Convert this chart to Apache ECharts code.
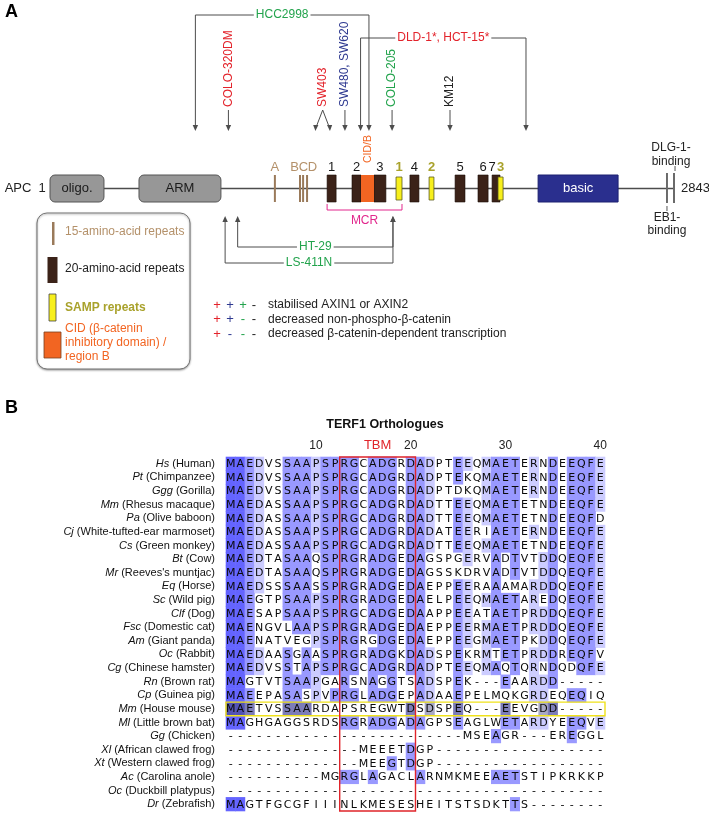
<!DOCTYPE html>
<html><head><meta charset="utf-8">
<script src="https://cdn.jsdelivr.net/npm/echarts@6/dist/echarts.min.js"></script>
<style>html,body{margin:0;padding:0;background:#fff}#c{width:709px;height:816px}</style>
</head><body><div id="c"></div>
<script>
// ---------------- Panel A data (positions in amino acids along APC) ----------------
const proteinName = 'APC';
const proteinLength = 2843;
const domainNames = ['oligo.', 'ARM', 'basic'];
const domainStart = [1, 405, 2217];
const domainEnd = [246, 777, 2580];
const rep15Names = ['A', 'B', 'C', 'D'];
const rep15Pos = [1022, 1136, 1150, 1168];
const rep20Names = ['1', '2', '3', '4', '5', '6', '7'];
const rep20Start = [1259, 1372, 1472, 1635, 1840, 1944, 2008];
const rep20End = [1300, 1413, 1526, 1676, 1885, 1990, 2044];
const sampNames = ['1', '2', '3'];
const sampStart = [1572, 1722, 2035];
const sampEnd = [1599, 1744, 2058];
const cidName = 'CID/B';
const cidRange = [1413, 1472];
const mcrName = 'MCR';
const mcrRange = [1259, 1599];
const bindingNames = [['EB1-', 'binding'], ['DLG-1-', 'binding']];
const bindingPos = [2802, 2834];
const downNames = ['HCC2998', 'COLO-320DM', 'SW403', 'SW480, SW620', 'DLD-1*, HCT-15*', 'COLO-205', 'KM12'];
const downSites = [[661, 1449], [811], [1206, 1272], [1340], [1411, 2162], [1554], [1817]];
const upNames = ['HT-29', 'LS-411N'];
const upSites = [[853, 1558], [796, 1558]];
const keyRows = ['stabilised AXIN1 or AXIN2', 'decreased non-phospho-\u03b2-catenin', 'decreased \u03b2-catenin-dependent transcription'];
const keySigns = [['+', '+', '+', '-'], ['+', '+', '-', '-'], ['+', '-', '-', '-']];

// ---------------- Panel B data ----------------
const alignTitle = 'TERF1 Orthologues';
const columns = ['1','2','3','4','5','6','7','8','9','10','11','12','13','14','15','16','17','18','19','20',
  '21','22','23','24','25','26','27','28','29','30','31','32','33','34','35','36','37','38','39','40'];
const rulerLabels = ['10', '20', '30', '40'];
const speciesAbbr = ['Hs','Pt','Ggg','Mm','Pa','Cj','Cs','Bt','Mr','Eq','Sc','Clf','Fsc','Am','Oc','Cg','Rn','Cp','Mm','Ml','Gg','Xl','Xt','Ac','Oc','Dr'];
const speciesName = ['Human','Chimpanzee','Gorilla','Rhesus macaque','Olive baboon','White-tufted-ear marmoset','Green monkey','Cow',"Reeves's muntjac",'Horse','Wild pig','Dog','Domestic cat','Giant panda','Rabbit','Chinese hamster','Brown rat','Guinea pig','House mouse','Little brown bat','Chicken','African clawed frog','Western clawed frog','Carolina anole','Duckbill platypus','Zebrafish'];
const sequences = [
  'MAEDVSSAAPSPRGCADGRDADPTEEQMAETERNDEEQFE',
  'MAEDVSSAAPSPRGCADGRDADPTEKQMAETERNDEEQFE',
  'MAEDVSSAAPSPRGCADGRDADPTDKQMAETERNDEEQFE',
  'MAEDASSAAPSPRGCADGRDADTTEEQMAETETNDEEQFE',
  'MAEDASSAAPSPRGCADGRDADTTEEQMAETETNDEEQFD',
  'MAEDASSAAPSPRGCADGRDADATEERIAETERNDEEQFE',
  'MAEDASSAAPSPRGCADGRDADTTEEQMAETETNDEEQFE',
  'MAEDTASAAQSPRGRADGEDAGSPGERVADTVTDDQEQFE',
  'MAEDTASAAQSPRGRADGEDAGSSKDRVADTVTDDQEQFE',
  'MAEDSSSAASSPRGRADGEDAEPPEERAAAMARDDQEQFE',
  'MAEGTPSAAPSPRGRADGEDAELPEEQMAETAREDQEQFE',
  'MAESAPSAAPSPRGCADGEDAAPPEEATAETPRDDQEQFE',
  'MAENGVLAAPSPRGRADGEDAEPPEERMAETPRDDQEQFE',
  'MAENATVEGPSPRGRGDGEDAEPPEEGMAETPKDDQEQFE',
  'MAEDAASGAASPRGRADGKDADSPEKRMTETPRDDREQFV',
  'MAEDVSSTAPSPRGCADGRDADPTEEQMAQTQRNDQDQFE',
  'MAGTVTSAAPGARSNAGGTSADSPEK---EAARDD-----',
  'MAEEPASASPVPRGLADGEPADAAEPELMQKGRDEQEQIQ',
  'MAETVSSAARDAPSREGWTDSDSPEQ---EEVGDD-----',
  'MAGHGAGGSRDSRGRADGADAGPSEAGLWETARDYEEQVE',
  '-------------------------MSEAGR---EREGGL',
  '--------------MEEETDGP------------------',
  '--------------MEEGTDGP------------------',
  '----------MGRGLAGACLARNMKMEEAETSTIPKRKKP',
  '----------------------------------------',
  'MAGTFGCGFIIINLKMESESHEITSTSDKTTS--------'
];
const motifName = 'TBM';
const motifCols = [13, 20];
const highlightedSpecies = 'House mouse';

// ---------------- styles ----------------
const FONT = '"Liberation Sans", Arial, Helvetica, sans-serif';
const COL = {red:'#e3232b', green:'#22a34c', navy:'#2e3990', black:'#222', tan:'#b4916a', olive:'#a9a22c',
  orange:'#f26522', magenta:'#e2278d', brown:'#3b2218', yellow:'#f7ef1c', gray:'#979797', basic:'#2a2f8e', line:'#4d4d4d'};
const downStyle = {
  'HCC2998': {color: COL.green, kind: 'bracket', y: 15},
  'COLO-320DM': {color: COL.red, kind: 'vertical'},
  'SW403': {color: COL.red, kind: 'split'},
  'SW480, SW620': {color: COL.navy, kind: 'vertical'},
  'DLD-1*, HCT-15*': {color: COL.red, kind: 'bracket', y: 38},
  'COLO-205': {color: COL.green, kind: 'vertical'},
  'KM12': {color: COL.black, kind: 'vertical'}
};
const upStyle = {'HT-29': {color: COL.green, y: 247}, 'LS-411N': {color: COL.green, y: 263}};
const keyColors = [COL.red, COL.navy, COL.green, COL.black];
const Y = {tipDown: 131, textBottom: 107, arrowTop: 110, repLabel: 167, top: 175, bot: 202, mid: 188.5,
  mcr: 210, mcrText: 221, tipUp: 216};
const PAL = ['', '#ccccff', '#9999ff', '#6464ff'];
const PAL_SEL = ['', '#a9a9c4', '#7d7db8', '#5252b4'];

// percentage-identity shading (Jalview style) derived from the sequences
const levels = (function () {
  const n = sequences.length, L = columns.length;
  const lv = sequences.map(() => new Array(L).fill(0));
  for (let c = 0; c < L; c++) {
    const cnt = {};
    sequences.forEach(s => { const ch = s[c]; if (ch !== '-') cnt[ch] = (cnt[ch] || 0) + 1; });
    let max = 0; for (const k in cnt) max = Math.max(max, cnt[k]);
    const pct = max / n * 100;
    const level = pct > 80 ? 3 : pct > 60 ? 2 : pct > 40 ? 1 : 0;
    sequences.forEach((s, r) => { if (s[c] !== '-' && cnt[s[c]] === max) lv[r][c] = level; });
  }
  return lv;
})();
const selRow = speciesName.indexOf(highlightedSpecies);
const speciesLabels = speciesAbbr.map((a, i) => a + ' (' + speciesName[i] + ')');

function font(sz, w) { return (w || 'normal') + ' ' + sz + 'px ' + FONT; }
function txt(x, y, text, color, sz, opts) {
  return {type: 'text', x: x, y: y, style: Object.assign({text: text, fill: color, font: font(sz || 12), align: 'center', verticalAlign: 'middle'}, opts || {})};
}
function head(x, y, dir, color) {
  const h = 6, w = 2.7;
  return {type: 'polygon', shape: {points: [[x, y], [x - w, y - dir * h], [x + w, y - dir * h]]}, style: {fill: color}};
}
function line(points, color, w) {
  return {type: 'polyline', shape: {points: points}, style: {stroke: color, lineWidth: w || 1, fill: null}};
}

// ---------------- render functions for panel A ----------------
function X(api, aa) { return api.coord([aa, 0])[0]; }
function YY(api, v) { return api.coord([1, v])[1]; }

function renderBackbone(params, api) {
  const x0 = X(api, 1), x1 = X(api, bindingPos[1]), xe = X(api, proteinLength), y = YY(api, Y.mid);
  return {type: 'group', children: [
    line([[x0, y], [x1, y]], COL.line, 1.3),
    txt(x0 - 32, y, proteinName, '#222', 13),
    txt(x0 - 8, y, '1', '#222', 13),
    txt(xe + 5, y, String(proteinLength), '#222', 13, {align: 'left'})
  ]};
}
function renderDomain(params, api) {
  const i = params.dataIndex;
  const x0 = X(api, domainStart[i]), x1 = X(api, domainEnd[i]);
  const t = YY(api, Y.top), b = YY(api, Y.bot);
  const isBasic = domainNames[i] === 'basic';
  return {type: 'group', children: [
    {type: 'rect', shape: {x: x0, y: t, width: x1 - x0, height: b - t, r: isBasic ? 0 : 5},
      style: {fill: isBasic ? COL.basic : COL.gray, stroke: isBasic ? '#1c2070' : '#555', lineWidth: 1}},
    txt((x0 + x1) / 2, (t + b) / 2, domainNames[i], isBasic ? '#fff' : '#1a1a1a', 13)
  ]};
}
function renderRep15(params, api) {
  const i = params.dataIndex;
  const x = X(api, rep15Pos[i]);
  const t = YY(api, Y.top), b = YY(api, Y.bot);
  let lx = x;
  if (i > 0) { const m = (X(api, rep15Pos[1]) + X(api, rep15Pos[3])) / 2; lx = m + (i - 2) * 9; }
  return {type: 'group', children: [
    {type: 'rect', shape: {x: x - 1, y: t, width: 2, height: b - t}, style: {fill: '#9a7a5a'}},
    txt(lx, YY(api, Y.repLabel), rep15Names[i], COL.tan, 13)
  ]};
}
function renderRep20(params, api) {
  const i = params.dataIndex;
  const x0 = X(api, rep20Start[i]), x1 = X(api, rep20End[i]);
  const t = YY(api, Y.top), b = YY(api, Y.bot);
  const lx = (x0 + x1) / 2 + (rep20Names[i] === '7' ? -4 : 0);
  return {type: 'group', children: [
    {type: 'rect', shape: {x: x0, y: t, width: x1 - x0, height: b - t}, style: {fill: COL.brown, stroke: '#1b0d06', lineWidth: 0.6}},
    txt(lx, YY(api, Y.repLabel), rep20Names[i], '#1a1a1a', 13)
  ]};
}
function renderCid(params, api) {
  const x0 = X(api, cidRange[0]), x1 = X(api, cidRange[1]);
  const t = YY(api, Y.top), b = YY(api, Y.bot);
  return {type: 'group', children: [
    {type: 'rect', shape: {x: x0, y: t, width: x1 - x0, height: b - t}, style: {fill: COL.orange}},
    {type: 'text', x: (x0 + x1) / 2 + 1, y: YY(api, 163), rotation: Math.PI / 2,
      style: {text: cidName, fill: COL.orange, font: font(10.5), align: 'left', verticalAlign: 'middle'}}
  ]};
}
function renderSamp(params, api) {
  const i = params.dataIndex;
  const x0 = X(api, sampStart[i]), x1 = X(api, sampEnd[i]);
  const t = YY(api, Y.top), b = YY(api, Y.bot);
  return {type: 'group', children: [
    {type: 'rect', shape: {x: x0, y: t + 2, width: x1 - x0, height: b - t - 4}, style: {fill: COL.yellow, stroke: '#5a5a20', lineWidth: 0.8}},
    txt((x0 + x1) / 2, YY(api, Y.repLabel), sampNames[i], COL.olive, 13, {font: font(13, 'bold')})
  ]};
}
function renderMcr(params, api) {
  const x0 = X(api, mcrRange[0]), x1 = X(api, mcrRange[1]);
  const y = YY(api, Y.mcr);
  return {type: 'group', children: [
    line([[x0, y - 6], [x0, y], [x1, y], [x1, y - 6]], COL.magenta, 1),
    txt((x0 + x1) / 2, YY(api, Y.mcrText), mcrName, COL.magenta, 12)
  ]};
}
function renderBinding(params, api) {
  const i = params.dataIndex;
  const x = X(api, bindingPos[i]);
  const t = YY(api, Y.top - 2), b = YY(api, Y.bot + 1);
  const ch = [{type: 'rect', shape: {x: x - 1, y: t, width: 2, height: b - t}, style: {fill: '#6a6a6a'}}];
  if (i === 0) {
    ch.push(line([[x, b + 3], [x, b + 8]], '#555', 1));
    ch.push(txt(x, YY(api, 218), bindingNames[i][0], '#222', 12));
    ch.push(txt(x, YY(api, 231), bindingNames[i][1], '#222', 12));
  } else {
    ch.push(line([[x + 1, t - 7], [x + 1, t - 2]], '#555', 1));
    ch.push(txt(x - 3, YY(api, 148), bindingNames[i][0], '#222', 12));
    ch.push(txt(x - 3, YY(api, 162), bindingNames[i][1], '#222', 12));
  }
  return {type: 'group', children: ch};
}
function renderDown(params, api) {
  const i = params.dataIndex, name = downNames[i], st = downStyle[name];
  const xs = downSites[i].map(a => X(api, a));
  const tip = YY(api, Y.tipDown);
  const ch = [];
  if (st.kind === 'bracket') {
    const y = YY(api, st.y);
    ch.push(line([[xs[0], tip - 4], [xs[0], y], [xs[1], y], [xs[1], tip - 4]], COL.line, 1));
    xs.forEach(x => ch.push(head(x, tip, 1, COL.line)));
    ch.push(txt((xs[0] + xs[1]) / 2, y, name, st.color, 12, {backgroundColor: '#fff', padding: [0, 2]}));
  } else if (st.kind === 'split') {
    const xm = (xs[0] + xs[1]) / 2, ya = YY(api, Y.arrowTop);
    ch.push(line([[xs[0], tip - 2], [xm, ya], [xs[1], tip - 2]], COL.line, 1));
    xs.forEach(x => ch.push({type: 'polygon', shape: {points: [[x, tip], [x + (xm - x) * 0.05 - 2.6, tip - 6], [x + (xm - x) * 0.05 + 2.6, tip - 6]]}, style: {fill: COL.line}}));
    ch.push({type: 'text', x: xm, y: YY(api, Y.textBottom), rotation: Math.PI / 2,
      style: {text: name, fill: st.color, font: font(12), align: 'left', verticalAlign: 'middle'}});
  } else {
    const x = xs[0];
    ch.push(line([[x, YY(api, Y.arrowTop)], [x, tip - 4]], COL.line, 1));
    ch.push(head(x, tip, 1, COL.line));
    ch.push({type: 'text', x: x, y: YY(api, Y.textBottom), rotation: Math.PI / 2,
      style: {text: name, fill: st.color, font: font(12), align: 'left', verticalAlign: 'middle'}});
  }
  return {type: 'group', children: ch};
}
function renderUp(params, api) {
  const i = params.dataIndex, name = upNames[i], st = upStyle[name];
  const xs = upSites[i].map(a => X(api, a));
  const tip = YY(api, Y.tipUp), y = YY(api, st.y);
  const ch = [line([[xs[0], tip + 4], [xs[0], y], [xs[1], y], [xs[1], tip + 4]], COL.line, 1)];
  xs.forEach(x => ch.push(head(x, tip, -1, COL.line)));
  ch.push(txt((xs[0] + xs[1]) / 2, y, name, st.color, 12, {backgroundColor: '#fff', padding: [0, 2]}));
  return {type: 'group', children: ch};
}

// ---------------- render functions for panel B ----------------
function renderCell(params, api) {
  const c = api.value(0), r = api.value(1);
  const p = api.coord([c, r]), s = api.size([1, 1]);
  const lv = levels[r][c];
  const pal = r === selRow ? PAL_SEL : PAL;
  const ch = [];
  if (lv > 0) ch.push({type: 'rect', shape: {x: p[0] - s[0] / 2 - 0.3, y: p[1] - s[1] / 2 - 0.3, width: s[0] + 0.6, height: s[1] + 0.6}, style: {fill: pal[lv]}});
  ch.push({type: 'text', x: p[0], y: p[1] + 0.5, style: {text: sequences[r][c], fill: '#0a0a0a', font: '11px "DejaVu Sans", sans-serif', align: 'center', verticalAlign: 'middle'}});
  return {type: 'group', children: ch};
}
function renderMotif(params, api) {
  const a = api.coord([motifCols[0] - 1, 0]), b = api.coord([motifCols[1] - 1, sequences.length - 1]);
  const s = api.size([1, 1]);
  const x0 = a[0] - s[0] / 2, x1 = b[0] + s[0] / 2, y0 = a[1] - s[1] / 2, y1 = b[1] + s[1] / 2;
  return {type: 'group', children: [
    {type: 'rect', shape: {x: x0, y: y0, width: x1 - x0, height: y1 - y0}, style: {fill: null, stroke: '#e0242a', lineWidth: 1.4}},
    txt((x0 + x1) / 2, y0 - 12, motifName, '#e0242a', 13)
  ]};
}
function renderSel(params, api) {
  const a = api.coord([0, selRow]), b = api.coord([columns.length - 1, selRow]);
  const s = api.size([1, 1]);
  return {type: 'rect', shape: {x: a[0] - s[0] / 2, y: a[1] - s[1] / 2, width: b[0] - a[0] + s[0], height: s[1]},
    style: {fill: null, stroke: '#f0e21a', lineWidth: 1.4}};
}

const cellData = [];
sequences.forEach((s, r) => { for (let c = 0; c < columns.length; c++) cellData.push([c, r]); });

// ---------------- static annotations (legends, panel letters, title) ----------------
const graphics = [
  {type: 'text', left: 5, top: 3, style: {text: 'A', font: font(18, 'bold'), fill: '#000'}},
  {type: 'text', left: 5, top: 399, style: {text: 'B', font: font(18, 'bold'), fill: '#000'}},
  {type: 'text', x: 385, y: 425, style: {text: alignTitle, font: font(12.5, 'bold'), fill: '#111', align: 'center', verticalAlign: 'middle'}},
  {type: 'rect', shape: {x: 37, y: 213, width: 153, height: 156, r: 10}, style: {fill: '#fff', stroke: '#777', lineWidth: 1, shadowBlur: 2, shadowOffsetY: 1, shadowColor: 'rgba(0,0,0,0.35)'}, z: 0},
  {type: 'rect', shape: {x: 52, y: 222, width: 2.5, height: 23}, style: {fill: '#9a7a5a'}, z: 1},
  {type: 'text', x: 65, y: 232, style: {text: '15-amino-acid repeats', font: font(12), fill: COL.tan, verticalAlign: 'middle'}, z: 1},
  {type: 'rect', shape: {x: 47.5, y: 257, width: 10, height: 26}, style: {fill: COL.brown}, z: 1},
  {type: 'text', x: 65, y: 269, style: {text: '20-amino-acid repeats', font: font(12), fill: '#222', verticalAlign: 'middle'}, z: 1},
  {type: 'rect', shape: {x: 49, y: 294, width: 7, height: 27}, style: {fill: COL.yellow, stroke: '#444', lineWidth: 0.8}, z: 1},
  {type: 'text', x: 65, y: 308, style: {text: 'SAMP repeats', font: font(12, 'bold'), fill: COL.olive, verticalAlign: 'middle'}, z: 1},
  {type: 'rect', shape: {x: 44, y: 332, width: 17, height: 26}, style: {fill: COL.orange, stroke: '#7a4020', lineWidth: 0.8}, z: 1},
  {type: 'text', x: 65, y: 329, style: {text: 'CID (\u03b2-catenin', font: font(12), fill: COL.orange, verticalAlign: 'middle'}, z: 1},
  {type: 'text', x: 65, y: 343, style: {text: 'inhibitory domain) /', font: font(12), fill: COL.orange, verticalAlign: 'middle'}, z: 1},
  {type: 'text', x: 65, y: 357, style: {text: 'region B', font: font(12), fill: COL.orange, verticalAlign: 'middle'}, z: 1}
];
const signX = [217, 230, 243, 254];
keyRows.forEach((t, r) => {
  const y = 305 + r * 14.5;
  keySigns[r].forEach((s, k) => graphics.push({type: 'text', x: signX[k], y: y, style: {text: s, font: font(13), fill: keyColors[k], align: 'center', verticalAlign: 'middle'}}));
  graphics.push({type: 'text', x: 268, y: y, style: {text: t, font: font(12), fill: '#222', verticalAlign: 'middle'}});
});

const A = {xAxisIndex: 0, yAxisIndex: 0, type: 'custom', silent: true, animation: false};
const chart = echarts.init(document.getElementById('c'), null, {width: 709, height: 816});
chart.setOption({
  animation: false,
  backgroundColor: '#fff',
  grid: [
    {left: 50, top: 0, width: 626, height: 400},
    {left: 226, top: 457, width: 379, height: 354}
  ],
  xAxis: [
    {gridIndex: 0, type: 'value', min: 1, max: proteinLength, show: false},
    {gridIndex: 1, type: 'category', data: columns, position: 'top', offset: 2,
      axisLine: {show: false}, splitLine: {show: false},
      axisTick: {alignWithLabel: true, interval: (i) => (i + 1) % 5 === 0, length: 4, lineStyle: {color: '#333'}},
      axisLabel: {interval: (i, v) => rulerLabels.indexOf(v) >= 0, fontSize: 12, color: '#222', margin: 3, fontFamily: FONT}}
  ],
  yAxis: [
    {gridIndex: 0, type: 'value', min: 0, max: 400, inverse: true, show: false},
    {gridIndex: 1, type: 'category', data: speciesLabels, inverse: true,
      axisLine: {show: false}, axisTick: {show: false}, splitLine: {show: false},
      axisLabel: {interval: 0, margin: 11, fontSize: 11, color: '#111', fontFamily: FONT,
        formatter: (v, i) => '{i|' + speciesAbbr[i] + '} (' + speciesName[i] + ')',
        rich: {i: {fontStyle: 'italic', fontSize: 11, color: '#111', fontFamily: FONT}}}}
  ],
  graphic: graphics,
  series: [
    Object.assign({}, A, {data: [[1, 0]], renderItem: renderBackbone, z: 1}),
    Object.assign({}, A, {data: domainNames.map((n, i) => [domainStart[i], 0]), renderItem: renderDomain, z: 2}),
    Object.assign({}, A, {data: rep15Names.map((n, i) => [rep15Pos[i], 0]), renderItem: renderRep15, z: 2}),
    Object.assign({}, A, {data: rep20Names.map((n, i) => [rep20Start[i], 0]), renderItem: renderRep20, z: 2}),
    Object.assign({}, A, {data: [[cidRange[0], 0]], renderItem: renderCid, z: 3}),
    Object.assign({}, A, {data: sampNames.map((n, i) => [sampStart[i], 0]), renderItem: renderSamp, z: 4}),
    Object.assign({}, A, {data: [[mcrRange[0], 0]], renderItem: renderMcr, z: 2}),
    Object.assign({}, A, {data: bindingNames.map((n, i) => [bindingPos[i], 0]), renderItem: renderBinding, z: 2}),
    Object.assign({}, A, {data: downNames.map((n, i) => [downSites[i][0], 0]), renderItem: renderDown, z: 2}),
    Object.assign({}, A, {data: upNames.map((n, i) => [upSites[i][0], 0]), renderItem: renderUp, z: 2}),
    {type: 'custom', xAxisIndex: 1, yAxisIndex: 1, silent: true, data: cellData, renderItem: renderCell, progressive: 0, z: 2},
    {type: 'custom', xAxisIndex: 1, yAxisIndex: 1, silent: true, data: [[motifCols[0] - 1, 0]], renderItem: renderMotif, z: 5},
    {type: 'custom', xAxisIndex: 1, yAxisIndex: 1, silent: true, data: [[0, selRow]], renderItem: renderSel, z: 4}
  ]
});
</script></body></html>
